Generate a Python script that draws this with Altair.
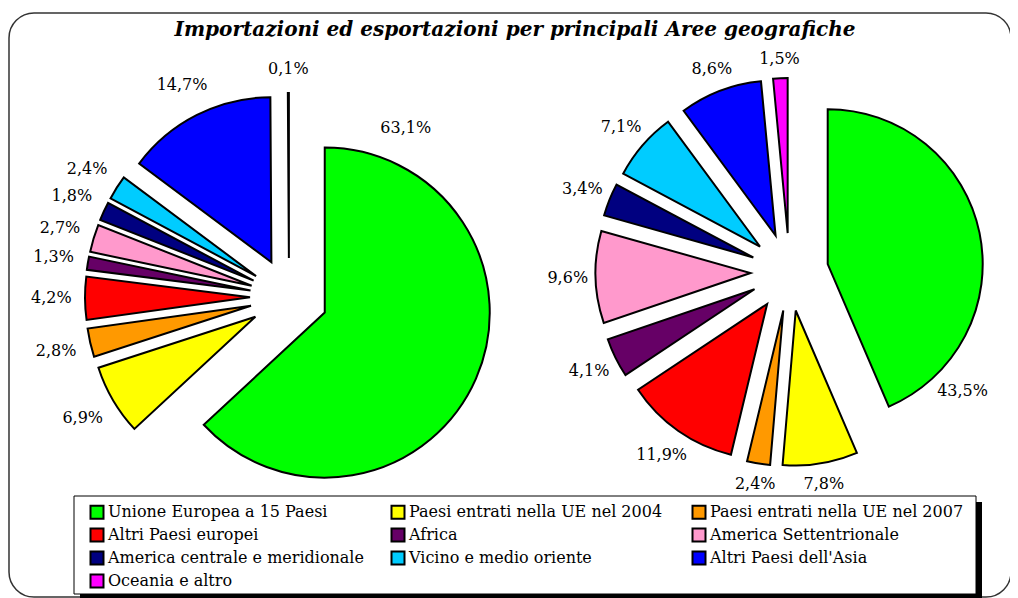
import math
import pandas as pd
import altair as alt

# ---------------- data ----------------
CATEGORIES = [
    "Unione Europea a 15 Paesi",
    "Paesi entrati nella UE nel 2004",
    "Paesi entrati nella UE nel 2007",
    "Altri Paesi europei",
    "Africa",
    "America Settentrionale",
    "America centrale e meridionale",
    "Vicino e medio oriente",
    "Altri Paesi dell'Asia",
    "Oceania e altro",
]
IMPORT_VALUES = [63.1, 6.9, 2.8, 4.2, 1.3, 2.7, 1.8, 2.4, 14.7, 0.1]
EXPORT_VALUES = [43.5, 7.8, 2.4, 11.9, 4.1, 9.6, 3.4, 7.1, 8.6, 1.5]
COLORS = ["#00FF00", "#FFFF00", "#FF9900", "#FF0000", "#660066",
          "#FF99CC", "#000080", "#00CCFF", "#0000FF", "#FF00FF"]
TITLE = "Importazioni ed esportazioni per principali Aree geografiche"

rows = []
for pie, vals in (("Importazioni", IMPORT_VALUES), ("Esportazioni", EXPORT_VALUES)):
    for i, (c, v) in enumerate(zip(CATEGORIES, vals)):
        rows.append({"pie": pie, "category": c, "order": i, "value": v})
df = pd.DataFrame(rows)

# ---------------- layout / style ----------------
W, H = 1002, 590
FONT = "DejaVu Serif"
PIE_STYLE = {
    "Importazioni": dict(cx=281, cy=289, r=165, explode=39, pad=16,
                         first_label=(34.7, 205)),
    "Esportazioni": dict(cx=781.5, cy=264, r=155, explode=39, pad=10,
                         first_label=(124.5, 210)),
}

xs = alt.Scale(domain=[0, W], range=[0, W])
ys = alt.Scale(domain=[0, H], range=[0, H])
ts = alt.Scale(domain=[0, 1], range=[0, 2 * math.pi])
cs = alt.Scale(domain=CATEGORIES, range=COLORS)

legend = alt.Legend(
    title=None, orient="none", legendX=81, legendY=496, columns=3,
    direction="horizontal",
    symbolType="square", symbolSize=169, symbolStrokeColor="black",
    symbolStrokeWidth=2, labelFont=FONT, labelFontSize=16, labelColor="black",
    columnPadding=23, rowPadding=1, gridAlign="all", labelOffset=3,
    padding=0, labelLimit=400, symbolOpacity=1,
)


def pie_layers(name, show_legend):
    s = PIE_STYLE[name]
    fa, fd = s["first_label"]
    base = (
        alt.Chart(df)
        .transform_filter(alt.datum.pie == name)
        .transform_window(cum="sum(value)", sort=[alt.SortField("order")])
        .transform_joinaggregate(total="sum(value)")
        .transform_calculate(
            start="(datum.cum - datum.value) / datum.total",
            end="datum.cum / datum.total",
        )
        .transform_calculate(mid="PI * (datum.start + datum.end)")
        .transform_calculate(
            cx=f"{s['cx']} + {s['explode']} * sin(datum.mid)",
            cy=f"{s['cy']} - {s['explode']} * cos(datum.mid)",
            label="replace(format(datum.value, '.1f'), '.', ',') + '%'",
        )
    )
    arcs = base.mark_arc(
        outerRadius=s["r"], stroke="black", strokeWidth=2, strokeJoin="miter"
    ).encode(
        x=alt.X("cx:Q", scale=xs, axis=None),
        y=alt.Y("cy:Q", scale=ys, axis=None),
        theta=alt.Theta("start:Q", scale=ts, stack=None),
        theta2=alt.Theta2("end"),
        color=alt.Color("category:N", scale=cs,
                        legend=legend if show_legend else None),
    )
    R = s["r"] + s["explode"] + s["pad"]
    labels = (
        base.transform_calculate(
            la=f"datum.order == 0 ? {math.radians(fa)} : datum.mid",
        )
        .transform_calculate(
            ld=f"datum.order == 0 ? {fd} : {R} + 4.4 * length(datum.label) * abs(sin(datum.la)) + 8 * abs(cos(datum.la))",
        )
        .transform_calculate(
            lx=f"{s['cx']} + datum.ld * sin(datum.la)",
            ly=f"{s['cy']} - datum.ld * cos(datum.la)",
        )
        .mark_text(font=FONT, fontSize=16, color="black",
                   align="center", baseline="middle")
        .encode(
            x=alt.X("lx:Q", scale=xs, axis=None),
            y=alt.Y("ly:Q", scale=ys, axis=None),
            text="label:N",
        )
    )
    return [arcs, labels]


one = pd.DataFrame({"t": [TITLE]})

border = alt.Chart(one).mark_rect(
    fillOpacity=0, stroke="#333333", strokeWidth=1.5, cornerRadius=25
).encode(x=alt.value(1), x2=alt.value(1003), y=alt.value(5), y2=alt.value(589))

shadow = alt.Chart(one).mark_rect(color="black").encode(
    x=alt.value(72), x2=alt.value(974), y=alt.value(494), y2=alt.value(592)
)
box = alt.Chart(one).mark_rect(fill="white", stroke="black", strokeWidth=1).encode(
    x=alt.value(66), x2=alt.value(968), y=alt.value(488), y2=alt.value(586)
)

title = alt.Chart(one).mark_text(
    font=FONT, fontSize=20, fontStyle="italic", fontWeight="bold",
    color="black", align="center", baseline="middle"
).encode(x=alt.value(507), y=alt.value(22), text="t:N")

chart = alt.layer(
    border, shadow, box,
    *pie_layers("Importazioni", True),
    *pie_layers("Esportazioni", False),
    title,
).properties(
    width=W, height=H, padding=0,
    autosize=alt.AutoSizeParams(type="none"),
).configure_view(stroke=None)

chart.save("out.html", embed_options={"renderer": "svg", "actions": False})
